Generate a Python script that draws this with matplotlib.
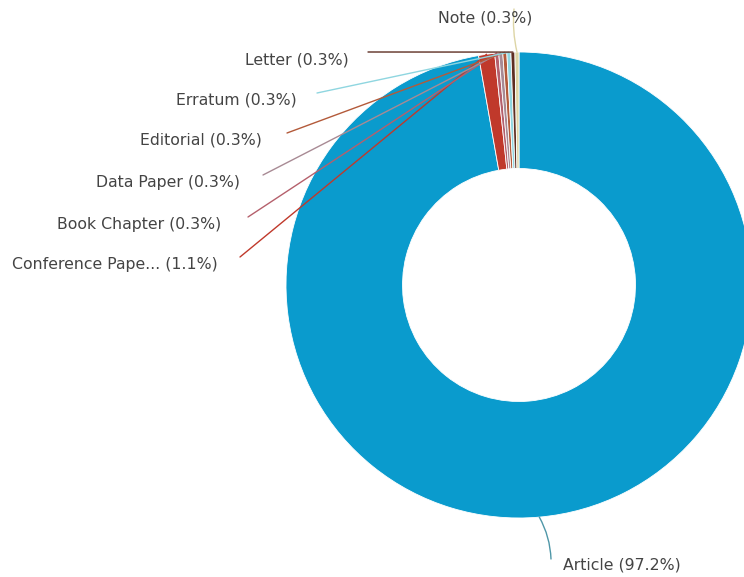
import numpy as np
import matplotlib
matplotlib.use("Agg")
import matplotlib.pyplot as plt

# document types and counts (percent shown in labels)
types = ["Article", "Conference Pape...", "Book Chapter", "Data Paper",
         "Editorial", "Erratum", "Letter", "Note"]
counts = [350, 4, 1, 1, 1, 1, 1, 1]
pct_labels = ["97.2%", "1.1%", "0.3%", "0.3%", "0.3%", "0.3%", "0.3%", "0.3%"]
colors = ["#0a9bcd", "#c0392b", "#b5606c", "#a88a94",
          "#b35a3a", "#8fd6e0", "#5e2e22", "#ddd5a5"]
line_colors = ["#4f97a8", "#c0392b", "#b5606c", "#a88a94",
               "#b35a3a", "#8fd6e0", "#5e2e22", "#ddd5a5"]

W, H = 744, 577
CX, CY, R = 519, 285, 233

fig = plt.figure(figsize=(W / 100, H / 100), dpi=100)
ax = fig.add_axes([(CX - R) / W, (H - CY - R) / H, 2 * R / W, 2 * R / H])

wedges, _ = ax.pie(counts, colors=colors, startangle=90, counterclock=False,
                   radius=1, wedgeprops=dict(width=0.5, edgecolor="white", linewidth=0.6))
ax.set_xlim(-1, 1)
ax.set_ylim(-1, 1)
ax.set_aspect("equal")
ax.axis("off")


def px(x, y):
    return ((x - CX) / R, (CY - y) / R)


# label layout: (line end x, line end y, text x, text center y, ha)
layout = {
    "Article": (551, 559, 563, 565, "left"),
    "Conference Pape...": (240, 257, 218, 265, "right"),
    "Book Chapter": (248, 217, 221, 224, "right"),
    "Data Paper": (263, 175, 240, 182, "right"),
    "Editorial": (287, 133, 262, 140, "right"),
    "Erratum": (317, 93, 297, 100, "right"),
    "Letter": (368, 52, 349, 60, "right"),
    "Note": (514, 9, 485, 18, "center"),
}

for w, name, pl, col in zip(wedges, types, pct_labels, line_colors):
    mid = np.deg2rad((w.theta1 + w.theta2) / 2)
    sx, sy = np.cos(mid), np.sin(mid)
    lx, ly, tx, ty, ha = layout[name]
    if name == "Note":
        cs = "arc3,rad=0.08"
    elif name == "Article":
        cs = "arc3,rad=0.12"
    else:
        cs = "arc3,rad=0"
    ax.annotate("", xy=(sx, sy), xytext=px(lx, ly), annotation_clip=False,
                arrowprops=dict(arrowstyle="-", color=col, lw=1.0,
                                connectionstyle=cs, shrinkA=0, shrinkB=0))
    ax.text(*px(tx, ty), f"{name} ({pl})", ha=ha, va="center",
            fontsize=11.3, color="#444444", clip_on=False)

fig.savefig("out.png", dpi=100, facecolor="white")
